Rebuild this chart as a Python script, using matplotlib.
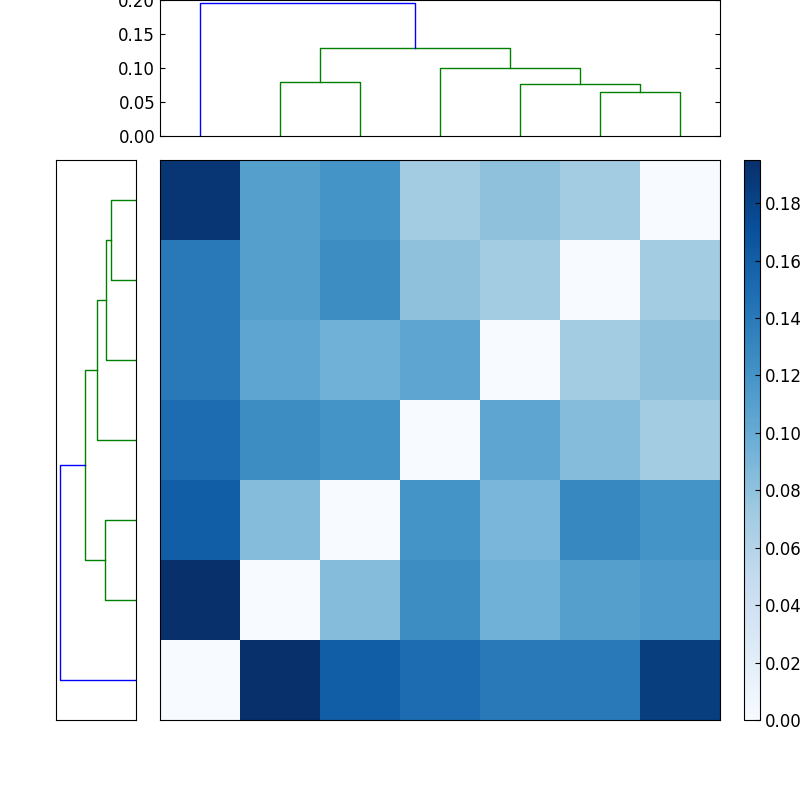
import matplotlib
matplotlib.use("Agg")
import matplotlib.pyplot as plt
import numpy as np

# distance matrix, row 0 drawn at bottom
D = np.array([
    [0.000, 0.195, 0.160, 0.150, 0.140, 0.140, 0.185],
    [0.195, 0.000, 0.085, 0.125, 0.095, 0.110, 0.115],
    [0.160, 0.085, 0.000, 0.120, 0.090, 0.130, 0.120],
    [0.150, 0.125, 0.120, 0.000, 0.105, 0.085, 0.070],
    [0.140, 0.105, 0.095, 0.105, 0.000, 0.070, 0.080],
    [0.140, 0.110, 0.125, 0.080, 0.070, 0.000, 0.070],
    [0.190, 0.110, 0.120, 0.070, 0.080, 0.070, 0.000],
])
# linkage: (left cluster, right cluster, height); clusters 7.. are new
linkage = [(5, 6, 0.065), (4, 7, 0.076), (1, 2, 0.080),
           (3, 8, 0.100), (9, 10, 0.130), (0, 11, 0.195)]
root_color, link_color = "#0000ff", "#008000"

def dendro_lines():
    pos = {i: i + 0.5 for i in range(7)}
    hgt = {i: 0.0 for i in range(7)}
    segs = []
    for k, (a, b, h) in enumerate(linkage):
        c = 7 + k
        col = root_color if k == len(linkage) - 1 else link_color
        segs.append(([pos[a], pos[a], pos[b], pos[b]], [hgt[a], h, h, hgt[b]], col))
        pos[c] = (pos[a] + pos[b]) / 2
        hgt[c] = h
    return segs

fig = plt.figure(figsize=(8, 8), dpi=100)
plt.rcParams['font.size'] = 12

axt = fig.add_axes([0.2, 0.83, 0.7, 0.17])
for xs, ys, col in dendro_lines():
    axt.plot(xs, ys, color=col, lw=1)
axt.set_xlim(0, 7)
axt.set_ylim(0, 0.2)
axt.set_xticks([])
axt.set_yticks([0, 0.05, 0.1, 0.15, 0.2])
axt.set_yticklabels(["0.00", "0.05", "0.10", "0.15", "0.20"])
axt.tick_params(direction="in", right=True, labelsize=12)

axl = fig.add_axes([0.07, 0.1, 0.1, 0.7])
for xs, ys, col in dendro_lines():
    axl.plot(ys, xs, color=col, lw=1)
axl.set_ylim(0, 7)
axl.set_xlim(0.205, 0)
axl.set_xticks([]); axl.set_yticks([])

axh = fig.add_axes([0.2, 0.1, 0.7, 0.7])
im = axh.imshow(D, cmap="Blues", origin="lower", aspect="auto",
                extent=(0, 7, 0, 7), interpolation="nearest", vmin=0, vmax=0.195)
axh.set_xticks([]); axh.set_yticks([])

axc = fig.add_axes([0.93, 0.1, 0.02, 0.7])
cb = fig.colorbar(im, cax=axc, ticks=np.arange(0, 0.19, 0.02))
cb.ax.set_yticklabels([f"{t:.2f}" for t in np.arange(0, 0.19, 0.02)])
cb.ax.tick_params(direction="in", labelsize=12)

fig.savefig("out.png", dpi=100)
